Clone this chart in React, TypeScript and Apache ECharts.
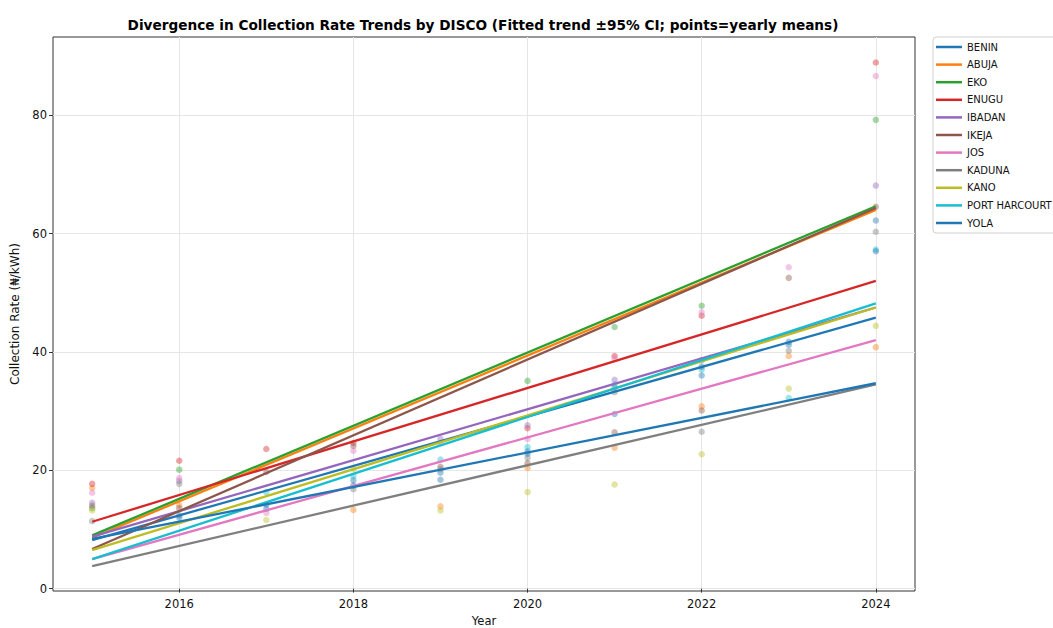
import React, { useEffect, useRef } from "react";
import * as echarts from "echarts";

const years = [2015, 2016, 2017, 2018, 2019, 2020, 2021, 2022, 2023, 2024];
const xTicks = [2016, 2018, 2020, 2022, 2024];
const yTicks = [0, 20, 40, 60, 80];

const discos = ["BENIN", "ABUJA", "EKO", "ENUGU", "IBADAN", "IKEJA", "JOS", "KADUNA", "KANO", "PORT HARCOURT", "YOLA"];
const colors = ["#1f77b4", "#ff7f0e", "#2ca02c", "#d62728", "#9467bd", "#8c564b", "#e377c2", "#7f7f7f", "#bcbd22", "#17becf", "#1f77b4"];

// fitted trend values at 2015 and 2024
const trend2015 = [8.2, 8.6, 9.0, 11.3, 8.8, 6.7, 5.0, 3.8, 6.5, 5.0, 8.4];
const trend2024 = [45.8, 64.0, 64.6, 52.0, 47.5, 64.3, 42.0, 34.5, 47.5, 48.2, 34.7];

// yearly means 2015..2024
const benin = [null, 12.4, 14.2, 18.3, 19.6, 23.2, 34.0, 36.0, 41.7, 62.2];
const abuja = [17.0, 14.1, null, 13.3, 13.9, 20.4, 23.8, 30.8, 39.3, 40.8];
const eko = [13.6, 20.1, null, null, null, 35.1, 44.2, 47.8, null, 79.2];
const enugu = [17.7, 21.6, 23.6, 24.6, null, 27.1, 39.3, 46.1, null, 88.9];
const ibadan = [14.5, 18.2, null, null, 25.3, 27.6, 35.3, 38.6, null, 68.1];
const ikeja = [14.0, 13.6, 19.7, 24.1, 20.6, 21.2, 26.4, 30.1, 52.5, 64.5];
const jos = [16.2, 18.7, 12.8, 23.3, 24.6, 25.3, 38.9, 46.7, 54.3, 86.6];
const kaduna = [11.4, 17.7, null, 16.8, 20.2, 22.1, 33.2, 26.5, 40.2, 60.3];
const kano = [13.2, null, 11.6, 20.2, 13.2, 16.3, 17.6, 22.7, 33.8, 44.4];
const portHarcourt = [null, null, 16.3, 19.0, 21.8, 23.9, 34.5, 37.0, 32.2, 57.3];
const yola = [null, 12.0, 13.5, 17.4, 18.4, 22.8, 29.5, 37.5, 41.2, 57.0];

const means = [benin, abuja, eko, enugu, ibadan, ikeja, jos, kaduna, kano, portHarcourt, yola];

const FONT = "DejaVu Sans";

export default function App() {
  const ref = useRef<HTMLDivElement>(null);
  useEffect(() => {
    if (!ref.current) return;
    const chart = echarts.init(ref.current, null, { renderer: "svg" });
    const scatterSeries = discos.map((name, i) => ({
      type: "scatter",
      name,
      data: years.map((y, j) => [y, means[i][j]]).filter((p) => p[1] !== null),
      symbolSize: 6.5,
      itemStyle: { color: colors[i], opacity: 0.42 },
      z: 2,
      silent: true,
    }));
    const lineSeries = discos.map((name, i) => ({
      type: "line",
      name,
      data: [
        [years[0], trend2015[i]],
        [years[years.length - 1], trend2024[i]],
      ],
      showSymbol: false,
      symbol: "none",
      lineStyle: { color: colors[i], width: 2.3 },
      itemStyle: { color: colors[i] },
      z: 3,
      silent: true,
    }));
    chart.setOption({
      animation: false,
      title: {
        text: "Divergence in Collection Rate Trends by DISCO (Fitted trend ±95% CI; points=yearly means)",
        left: 478,
        textAlign: "center",
        top: 13,
        textStyle: { fontFamily: FONT, fontSize: 13.65, fontWeight: "bold", color: "#000" },
      },
      grid: {
        left: 53,
        right: 138,
        top: 37,
        bottom: 37,
        outerBoundsMode: "none",
        containLabel: false,
        show: true,
        borderColor: "#333",
        borderWidth: 1,
        backgroundColor: "#fff",
      },
      legend: {
        data: discos.map((n) => ({ name: n, icon: "rect" })),
        orient: "vertical",
        left: 933,
        top: 37,
        itemWidth: 26,
        itemHeight: 2.5,
        itemGap: 5.6,
        padding: [4, 8, 4, 3],
        borderColor: "#d0d0d0",
        borderWidth: 1,
        borderRadius: 3,
        backgroundColor: "#fff",
        selectedMode: false,
        textStyle: { fontFamily: FONT, fontSize: 10, color: "#111", lineHeight: 12 },
      },
      xAxis: {
        type: "value",
        min: 2014.55,
        max: 2024.45,
        name: "Year",
        nameLocation: "middle",
        nameGap: 24,
        nameTextStyle: { fontFamily: FONT, fontSize: 11.5, color: "#111" },
        axisLine: { show: false },
        axisTick: { show: true, customValues: xTicks, length: 4, lineStyle: { color: "#333" } },
        axisLabel: {
          customValues: xTicks,
          fontFamily: FONT,
          fontSize: 11.5,
          color: "#111",
          margin: 7,
          formatter: (v: number) => String(v),
        },
        splitLine: { show: true, lineStyle: { color: "#e6e6e6", width: 1 } },
      },
      yAxis: {
        type: "value",
        min: -0.4,
        max: 93.2,
        name: "Collection Rate (₦/kWh)",
        nameLocation: "middle",
        nameGap: 25,
        nameTextStyle: { fontFamily: FONT, fontSize: 12, color: "#111" },
        axisLine: { show: false },
        axisTick: { show: true, customValues: yTicks, length: 4, lineStyle: { color: "#333" } },
        axisLabel: {
          customValues: yTicks,
          fontFamily: FONT,
          fontSize: 11.5,
          color: "#111",
          margin: 6,
          formatter: (v: number) => String(v),
        },
        splitLine: { show: true, lineStyle: { color: "#e6e6e6", width: 1 } },
      },
      series: [...lineSeries, ...scatterSeries],
    });
    return () => chart.dispose();
  }, []);
  return (
    <div
      ref={ref}
      style={{ position: "fixed", left: 0, top: 0, width: 1053, height: 628, background: "#fff" }}
    />
  );
}
